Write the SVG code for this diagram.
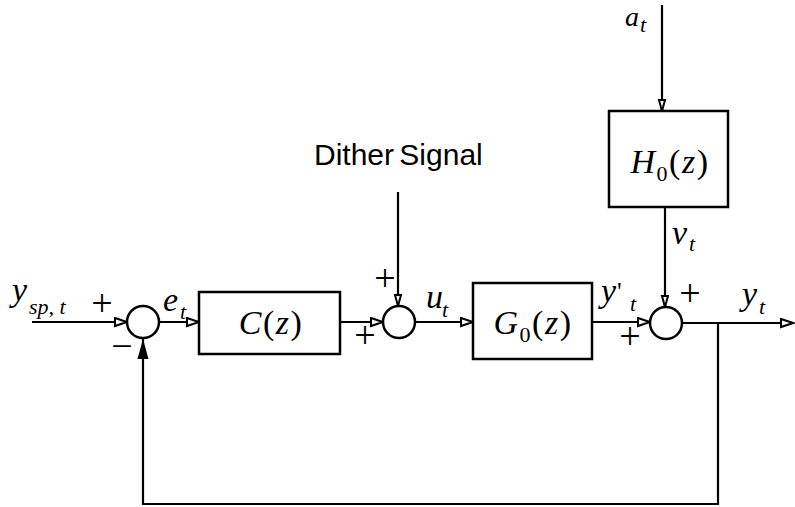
<svg xmlns="http://www.w3.org/2000/svg" width="795" height="507" viewBox="0 0 795 507">
<style>
.ln{stroke:#000;stroke-width:2.2;fill:none}
.box{fill:#fff;stroke:#000;stroke-width:2.5}
.sum{fill:#fff;stroke:#000;stroke-width:2.5}
.m{font-family:"Liberation Serif","Times New Roman",serif;font-style:italic;font-size:34px;fill:#000}
.bx{letter-spacing:1.5px}
.up{font-style:normal}
.sb{font-size:22px}
.op{font-family:"Liberation Serif","Times New Roman",serif;font-size:38px;text-anchor:middle;fill:#000}
.lbl{font-family:"Liberation Sans",Arial,sans-serif;font-size:30px;fill:#000}
</style>
<defs>
<marker id="ah" markerUnits="userSpaceOnUse" markerWidth="16" markerHeight="12" refX="13" refY="5" orient="auto">
<path d="M1,1 L13,5 L1,9 z" fill="#fff" stroke="#000" stroke-width="2"/>
</marker>
<marker id="av" markerUnits="userSpaceOnUse" markerWidth="14" markerHeight="10" refX="12" refY="4" orient="auto">
<path d="M1,1 L12,4 L1,7 z" fill="#fff" stroke="#000" stroke-width="2"/>
</marker>
<marker id="af" markerUnits="userSpaceOnUse" markerWidth="22" markerHeight="14" refX="20" refY="6" orient="auto">
<path d="M0,0.5 L20,6 L0,11.5 z" fill="#000"/>
</marker>
</defs>

<g id="connectors">
<line class="ln" x1="32" y1="322" x2="127" y2="322" marker-end="url(#ah)"/>
<line class="ln" x1="159" y1="322" x2="199" y2="322" marker-end="url(#ah)"/>
<line class="ln" x1="340" y1="322" x2="383" y2="322" marker-end="url(#ah)"/>
<line class="ln" x1="398" y1="192" x2="398" y2="306" marker-end="url(#av)"/>
<line class="ln" x1="415" y1="322" x2="473" y2="322" marker-end="url(#ah)"/>
<line class="ln" x1="592" y1="322" x2="650" y2="322" marker-end="url(#ah)"/>
<line class="ln" x1="662" y1="5" x2="662" y2="111" marker-end="url(#av)"/>
<line class="ln" x1="665" y1="207" x2="665" y2="307" marker-end="url(#av)"/>
<line class="ln" x1="682" y1="323" x2="793" y2="323" marker-end="url(#ah)"/>
<polyline class="ln" points="718,323 718,504 143,504 143,339" marker-end="url(#af)"/>
</g>

<g id="sum1"><circle class="sum" cx="143" cy="322" r="16"/></g>
<g id="sum2"><circle class="sum" cx="399" cy="322" r="16"/></g>
<g id="sum3"><circle class="sum" cx="666" cy="323" r="16"/></g>

<g id="C">
<rect class="box" x="199" y="292" width="141" height="62"/>
<text class="m bx" x="271" y="334" text-anchor="middle">C<tspan class="up">(</tspan>z<tspan class="up">)</tspan></text>
</g>
<g id="G0">
<rect class="box" x="473" y="283" width="119" height="76"/>
<text class="m bx" x="533" y="334" text-anchor="middle">G<tspan class="up sb" dy="8">0</tspan><tspan class="up" dy="-8">(</tspan>z<tspan class="up">)</tspan></text>
</g>
<g id="H0">
<rect class="box" x="609" y="111" width="119" height="96"/>
<text class="m bx" x="670" y="173" text-anchor="middle">H<tspan class="up sb" dy="8">0</tspan><tspan class="up" dy="-8">(</tspan>z<tspan class="up">)</tspan></text>
</g>

<g id="labels">
<text class="m" x="12" y="301">y</text><text class="m sb" x="29" y="314">sp, t</text>
<text class="m" x="163" y="311">e</text><text class="m sb" x="180" y="319">t</text>
<text class="m" x="426" y="308">u</text><text class="m sb" x="442" y="317">t</text>
<text class="m" x="601" y="302">y</text><text class="m up" x="617" y="300" style="font-size:26px">'</text><text class="m sb" x="630" y="311">t</text>
<text class="m" x="742" y="305">y</text><text class="m sb" x="759" y="314">t</text>
<text class="m" x="672" y="244">v</text><text class="m sb" x="689" y="251">t</text>
<text class="m" x="625" y="26" style="font-size:28px">a</text><text class="m sb" x="640" y="32">t</text>
<text class="lbl" x="314" y="165" word-spacing="-3">Dither Signal</text>
<text class="op" x="102" y="316">+</text>
<text class="op" x="122" y="359">−</text>
<text class="op" x="385" y="291">+</text>
<text class="op" x="365" y="348">+</text>
<text class="op" x="630" y="349">+</text>
<text class="op" x="690" y="306">+</text>
</g>
</svg>
